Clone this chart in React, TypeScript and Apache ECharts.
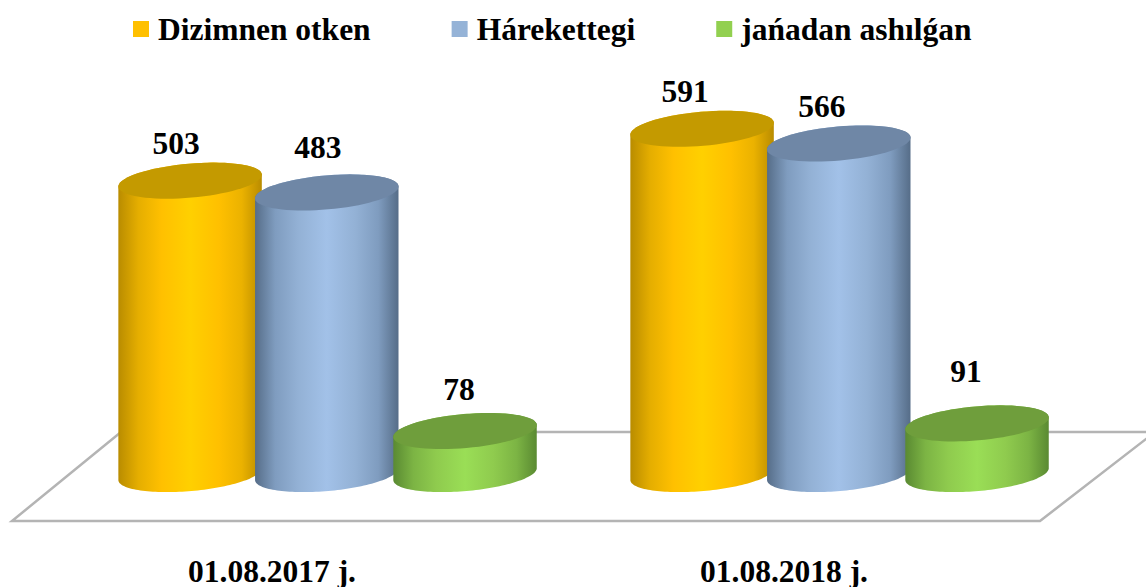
import React, { useEffect, useRef } from "react";
import * as echarts from "echarts";

const categories = ["01.08.2017 j.", "01.08.2018 j."];
const seriesNames = ["Dizimnen otken", "Hárekettegi", "jańadan ashılǵan"];
const dizimnenOtken = [503, 591];
const harekettegi = [483, 566];
const janadanAshilgan = [78, 91];

const FONT = '"Liberation Serif", "Times New Roman", serif';
const FONT_SIZE = 31.5;
const TILT = (5 * Math.PI) / 180;
const SEMI_B = 17;
const BASE_VALUE = 5;
const BAR_OFFSET = [-0.16, 0.107, 0.377];
const SEMI_A = 72 / 512;
const LABEL_NUDGE = [
  [[-14, -37], [-17, -37]],
  [[-9, -44.5], [-17, -37.5]],
  [[-6, -41.5], [-11, -52]],
];
const STYLES = [
  {
    legend: "#FFC000",
    top: "#C49A00",
    stops: ["#B98C00", "#E5AE00", "#FFC000", "#FFD000", "#FFC000", "#EBB200", "#B98C00"],
  },
  {
    legend: "#95B3D7",
    top: "#6F87A6",
    stops: ["#566D88", "#7F9CBF", "#93B1D5", "#A2C1E8", "#93B1D5", "#7F9CBF", "#566D88"],
  },
  {
    legend: "#92D050",
    top: "#6F9E3C",
    stops: ["#5A8A32", "#7CB444", "#8FCB4E", "#9ADE56", "#8FCB4E", "#7CB444", "#5A8A32"],
  },
];
const STOP_AT = [0, 0.14, 0.3, 0.5, 0.7, 0.86, 1];

// point on a tilted ellipse, u in degrees (0 = right end, 180 = left end, 90 = lower side)
function ellipsePoint(cx: number, cy: number, a: number, u: number) {
  const r = (u * Math.PI) / 180;
  const ex = a * Math.cos(r);
  const ey = SEMI_B * Math.sin(r);
  return [cx + ex * Math.cos(TILT) + ey * Math.sin(TILT), cy - ex * Math.sin(TILT) + ey * Math.cos(TILT)];
}

function arc(cx: number, cy: number, a: number, from: number, to: number) {
  const pts: number[][] = [];
  const steps = 72;
  for (let i = 0; i <= steps; i++) {
    pts.push(ellipsePoint(cx, cy, a, from + ((to - from) * i) / steps));
  }
  return pts;
}

function toPath(pts: number[][]) {
  return pts.map((p, i) => `${i ? "L" : "M"}${p[0].toFixed(2)} ${p[1].toFixed(2)}`).join(" ") + " Z";
}

function cylinder(seriesIndex: number) {
  return (params: any, api: any) => {
    const cat = api.value(0);
    const val = api.value(1);
    const band = api.size([1, 0])[0];
    const center = api.coord([cat, BASE_VALUE]);
    const topPt = api.coord([cat, val]);
    const cx = center[0] + BAR_OFFSET[seriesIndex] * band;
    const a = SEMI_A * band;
    const yb = center[1];
    const yt = topPt[1];
    const s = STYLES[seriesIndex];
    // from the left end of the base, along its lower side to the right end,
    // then to the top face and back along that face's upper side
    const body = [...arc(cx, yb, a, 180, 0), ...arc(cx, yt, a, 360, 180)];
    const top = arc(cx, yt, a, 0, 360);
    const nudge = LABEL_NUDGE[seriesIndex][cat];
    return {
      type: "group",
      children: [
        {
          type: "path",
          shape: { pathData: toPath(body) },
          style: {
            fill: new echarts.graphic.LinearGradient(
              0, 0, 1, 0,
              s.stops.map((color, i) => ({ offset: STOP_AT[i], color }))
            ),
          },
        },
        {
          type: "path",
          shape: { pathData: toPath(top) },
          style: { fill: s.top },
        },
        {
          type: "text",
          x: cx + nudge[0],
          y: yt + nudge[1],
          style: {
            text: String(val),
            fill: "#000",
            font: `bold ${FONT_SIZE}px ${FONT}`,
            align: "center",
            verticalAlign: "middle",
          },
        },
      ],
    };
  };
}

export default function App() {
  const ref = useRef<HTMLDivElement>(null);
  useEffect(() => {
    document.body.style.margin = "0";
    const chart = echarts.init(ref.current!, null, { renderer: "svg" });
    const values = [dizimnenOtken, harekettegi, janadanAshilgan];
    chart.setOption({
      animation: false,
      backgroundColor: "#fff",
      legend: {
        left: 128,
        top: 8,
        icon: "rect",
        itemWidth: 16,
        itemHeight: 16,
        itemGap: 81,
        data: seriesNames,
        textStyle: {
          fontFamily: FONT,
          fontWeight: "bold",
          fontSize: FONT_SIZE,
          color: "#000",
          padding: [0, 0, 0, 4],
        },
      },
      grid: { left: 16, right: 106, top: 123.5, bottom: 109.5 },
      xAxis: {
        type: "category",
        data: categories,
        axisLine: { show: false },
        axisTick: { show: false },
        axisLabel: {
          margin: 78,
          fontFamily: FONT,
          fontWeight: "bold",
          fontSize: FONT_SIZE,
          color: "#000",
        },
      },
      yAxis: { type: "value", min: 0, max: 600, show: false, splitLine: { show: false } },
      graphic: [
        {
          type: "polygon",
          z: 0,
          shape: { points: [[12, 521], [1040, 521], [1155, 432], [121, 432]] },
          style: { fill: "#fff", stroke: "#B4B4B4", lineWidth: 2.5, lineJoin: "miter" },
        },
      ],
      series: seriesNames.map((name, i) => ({
        type: "custom",
        name,
        z: 3 + i,
        clip: false,
        coordinateSystem: "cartesian2d",
        itemStyle: { color: STYLES[i].legend },
        encode: { x: 0, y: 1 },
        data: values[i].map((v, c) => [c, v]),
        renderItem: cylinder(i),
      })),
    });
    return () => chart.dispose();
  }, []);
  return <div ref={ref} style={{ width: 1146, height: 587 }} />;
}
